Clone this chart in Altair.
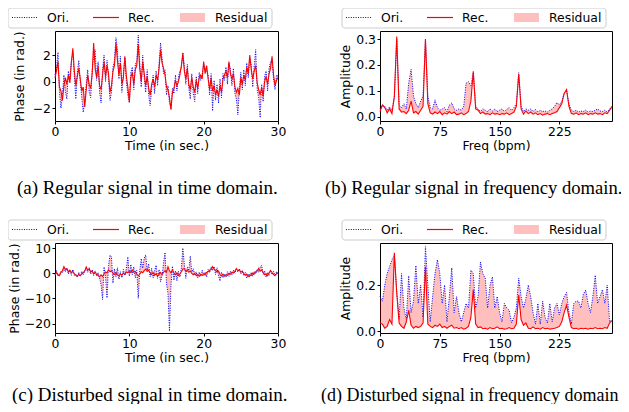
import altair as alt
import pandas as pd

# ---------------- data ----------------
time_sec = [round(0.2 * i, 1) for i in range(151)]
freq_bpm = list(range(0, 292, 3))

ori_a = [0.5, 1.0, 2.2, -0.8, -2.0, -1.0, 0.5, -0.8, -1.3, 0.8,
         0.2, 1.6, 2.2, 0.4, -1.3, 0.7, 1.6, 0.0, -1.2, -2.3,
         -1.5, -0.2, 0.9, -0.8, -1.2, 0.8, 2.0, 2.4, 0.1, 1.5,
         -0.8, -1.6, 0.9, 2.0, 0.0, 1.6, 0.3, -1.4, -0.8, 1.1,
         1.6, 3.3, 2.4, 0.2, 1.9, -0.8, 0.6, 1.8, 0.0, -1.0,
         -1.6, 0.7, 1.1, -0.6, 1.3, 1.5, 3.5, 1.4, -0.4, 2.0,
         0.3, -0.8, 0.9, -1.0, -1.8, -0.6, 0.5, -0.9, 0.8, -0.3,
         1.3, 2.9, 1.8, 0.6, 0.9, -1.0, -0.3, -1.6, -2.0, -0.5,
         -0.9, 0.5, -0.7, 0.3, 0.8, 1.0, 2.2, 1.2, -0.2, 1.3,
         -0.5, -1.3, 0.6, -0.9, -1.5, 0.4, -0.9, 0.7, 0.1, 0.6,
         1.3, 1.0, 0.8, 0.5, -1.0, 0.6, -2.2, 0.1, -1.4, -0.2,
         -1.6, 0.2, -1.2, 0.6, 0.1, 1.1, -0.2, 1.4, 0.9, -0.3,
         1.0, -0.9, -1.3, -2.5, -0.6, 0.7, -0.6, 0.9, -0.3, 1.4,
         0.3, 1.8, 1.2, -0.4, 1.2, 2.4, -0.6, -1.2, -2.7, -0.2,
         -1.5, 0.4, 0.8, -0.7, 1.0, 1.5, 1.6, 0.2, -0.6, 0.5,
         0.4]
rec_a = [0.3, 0.8, 1.5, -0.4, -0.7, -1.4, -0.3, 0.3, -0.2, 0.5,
         -0.1, 1.4, 2.5, 0.8, -0.3, 0.4, 1.0, 0.2, -0.7, -0.4,
         -1.9, -0.6, 0.5, -0.2, -0.5, 0.6, 2.9, 1.0, 0.3, 1.2,
         -0.3, -0.6, 0.5, 1.5, 0.4, 1.2, 0.6, -0.8, -0.3, 0.8,
         1.2, 2.9, 1.6, 0.5, 1.4, -0.2, 0.3, 1.9, 0.4, -0.4,
         -1.5, 0.3, 0.7, -0.2, 0.9, 1.2, 2.8, 1.0, 0.0, 1.5,
         0.6, -0.3, 0.4, -0.5, -1.0, -0.2, 0.2, -0.4, 0.5, 0.1,
         1.0, 2.4, 1.4, 1.0, 0.5, -0.4, -0.6, -1.2, -2.1, -0.8,
         -0.5, 0.1, -0.3, 0.0, 0.5, 1.2, 2.1, 0.8, 0.2, 1.0,
         -0.2, -0.6, 0.3, -0.4, -0.8, 0.1, -0.5, 0.3, 0.5, 0.2,
         1.5, 0.6, 1.2, 0.2, -0.6, 0.3, -0.7, -0.3, -1.0, -0.6,
         -1.1, -0.3, -0.8, 0.2, 0.5, 0.8, 0.3, 1.5, 0.6, 0.2,
         0.6, -0.4, -0.8, -0.5, -1.0, 0.3, -0.2, 0.5, 0.1, 1.1,
         0.6, 2.0, 0.9, 0.2, 0.8, 1.2, -0.1, -0.6, -1.0, -0.4,
         -1.1, 0.0, 0.4, -0.2, 0.6, 1.0, 1.9, 0.5, -0.3, 0.1,
         0.3]

ori_c = [-0.5, 1.2, -1.0, -0.3, 0.8, 0.2, 1.8, 0.5, 2.0, -0.3,
         0.9, -0.8, 1.5, -0.9, -0.3, -1.6, 0.4, -1.2, 0.8, -0.5,
         1.2, 2.0, 0.4, 2.2, -0.4, 1.4, -0.9, 1.0, -1.2, 0.3,
         -2.0, -4.5, -10.5, 2.5, -1.5, -9.8, 3.0, 7.2, 6.5, -3.9,
         1.8, -1.5, 2.2, -2.4, 0.6, -1.8, 1.5, -0.9, 2.0, 6.5,
         -1.2, 3.5, -0.6, 2.5, -1.8, 1.2, -10.0, 1.0, 5.8, 2.0,
         6.0, 7.3, 1.2, 3.8, -1.5, 2.0, -1.9, 1.0, 3.2, -2.0,
         1.5, -3.5, -1.0, 4.0, 8.3, -4.2, -8.0, -23.0, -5.0, 2.8,
         -2.8, 1.0, -3.0, 0.8, -1.5, 2.0, 10.0, 3.5, -2.0, 2.5,
         1.0, 6.8, 0.5, 1.8, -0.8, 0.6, -1.8, 0.5, -1.2, 1.2,
         -0.8, 0.5, -1.5, 1.5, 0.2, 2.5, 1.0, 2.7, -0.5, 2.2,
         -1.0, -3.1, 0.4, -1.8, -0.3, -1.5, 0.6, -1.2, 0.8, -0.6,
         1.2, 0.0, 1.6, 0.6, 1.8, -0.2, 1.0, -1.0, 0.3, -2.0,
         -0.5, -1.5, 0.4, -1.2, 0.7, -0.2, 1.6, 0.4, 2.5, 3.2,
         -0.4, 1.0, -1.6, 0.4, -0.8, 1.4, -0.6, 0.8, -1.2, 0.6,
         0.0]
rec_c = [-0.8, 0.2, -0.6, -1.0, 0.3, 1.0, 2.6, 1.5, 1.8, 0.6,
         1.2, 0.3, 0.8, -0.2, -0.8, -1.2, -0.5, -1.0, -0.3, 0.2,
         0.8, 2.5, 1.2, 1.8, 0.5, 0.9, -0.2, 0.4, -0.4, -0.8,
         -1.4, -0.6, -1.2, -0.3, 0.5, 0.2, 1.4, 0.6, 1.0, 0.0,
         -0.5, 0.3, -0.7, -1.0, -0.3, -0.8, 0.1, -0.4, 0.5, 0.2,
         0.9, 0.3, 1.3, 0.4, 0.7, -0.3, -1.0, -0.4, 0.6, 0.2,
         1.0, 1.6, 0.7, 1.2, 0.1, -0.5, 0.4, -0.8, -0.2, -1.2,
         -0.4, 0.3, -0.6, 0.4, 1.0, 0.5, 2.6, 1.0, 0.2, 1.3,
         0.1, -0.6, 0.2, -0.9, -0.2, 0.6, 1.6, 1.9, 0.8, 1.2,
         0.4, 0.9, -0.1, -0.6, 0.0, -1.0, -0.5, -1.2, -0.4, -0.9,
         -0.2, -0.6, 0.3, 0.6, 1.2, 1.5, 2.6, 1.7, 1.1, 0.5,
         0.9, -0.5, -1.1, -0.4, -1.2, -0.6, -0.9, 0.0, -0.4, 0.4,
         0.1, 0.8, 1.9, 1.0, 1.4, 0.5, 0.8, -0.2, -0.8, -0.3,
         -1.2, -0.6, -0.9, 0.1, -0.3, 0.6, 0.9, 1.9, 0.8, 1.3,
         0.3, -0.6, -0.2, -1.0, 0.2, 1.0, 0.3, -0.5, -0.9, -0.2,
         0.2]

ori_b = [0.030, 0.045, 0.040, 0.025, 0.038, 0.025, 0.070, 0.300, 0.045, 0.035,
         0.050, 0.030, 0.130, 0.183, 0.080, 0.050, 0.035, 0.060, 0.080, 0.295,
         0.080, 0.035, 0.030, 0.065, 0.035, 0.025, 0.030, 0.035, 0.020, 0.045,
         0.053, 0.030, 0.025, 0.030, 0.025, 0.040, 0.130, 0.135, 0.120, 0.170,
         0.040, 0.030, 0.020, 0.030, 0.025, 0.020, 0.030, 0.022, 0.030, 0.020,
         0.025, 0.030, 0.020, 0.028, 0.035, 0.025, 0.035, 0.050, 0.170, 0.040,
         0.020, 0.030, 0.025, 0.030, 0.020, 0.028, 0.018, 0.025, 0.020, 0.022,
         0.018, 0.025, 0.030, 0.040, 0.055, 0.045, 0.060, 0.090, 0.100, 0.050,
         0.025, 0.020, 0.025, 0.018, 0.022, 0.020, 0.025, 0.018, 0.022, 0.020,
         0.025, 0.030, 0.022, 0.020, 0.025, 0.018, 0.030, 0.035]
rec_b = [0.020, 0.045, 0.035, 0.015, 0.030, 0.012, 0.080, 0.310, 0.030, 0.018,
         0.020, 0.012, 0.025, 0.060, 0.015, 0.020, 0.010, 0.025, 0.040, 0.300,
         0.050, 0.015, 0.010, 0.018, 0.012, 0.020, 0.008, 0.015, 0.010, 0.020,
         0.012, 0.018, 0.008, 0.010, 0.015, 0.008, 0.012, 0.020, 0.060, 0.175,
         0.030, 0.025, 0.012, 0.018, 0.010, 0.012, 0.008, 0.015, 0.010, 0.012,
         0.008, 0.012, 0.010, 0.015, 0.008, 0.012, 0.018, 0.040, 0.165, 0.030,
         0.010, 0.022, 0.012, 0.018, 0.010, 0.015, 0.008, 0.012, 0.006, 0.010,
         0.012, 0.008, 0.012, 0.015, 0.020, 0.035, 0.050, 0.090, 0.105, 0.040,
         0.012, 0.010, 0.015, 0.008, 0.012, 0.010, 0.015, 0.008, 0.012, 0.010,
         0.015, 0.010, 0.012, 0.008, 0.015, 0.012, 0.025, 0.040]

ori_d = [0.150, 0.130, 0.200, 0.250, 0.280, 0.310, 0.330, 0.170, 0.050, 0.250,
         0.100, 0.050, 0.240, 0.080, 0.130, 0.285, 0.120, 0.200, 0.060, 0.367,
         0.200, 0.040, 0.150, 0.250, 0.310, 0.250, 0.120, 0.200, 0.040, 0.150,
         0.275, 0.080, 0.150, 0.080, 0.040, 0.080, 0.120, 0.100, 0.265, 0.250,
         0.100, 0.150, 0.300, 0.250, 0.230, 0.100, 0.200, 0.236, 0.100, 0.150,
         0.080, 0.040, 0.120, 0.100, 0.090, 0.035, 0.060, 0.100, 0.230, 0.150,
         0.100, 0.140, 0.200, 0.150, 0.080, 0.030, 0.120, 0.030, 0.130, 0.060,
         0.035, 0.120, 0.040, 0.100, 0.120, 0.070, 0.120, 0.150, 0.168, 0.080,
         0.030, 0.120, 0.130, 0.130, 0.100, 0.160, 0.178, 0.120, 0.080, 0.150,
         0.243, 0.120, 0.150, 0.180, 0.120, 0.200, 0.040, 0.050]
rec_d = [0.035, 0.030, 0.012, 0.020, 0.050, 0.030, 0.340, 0.165, 0.035, 0.020,
         0.012, 0.040, 0.090, 0.025, 0.012, 0.020, 0.015, 0.020, 0.035, 0.280,
         0.030, 0.020, 0.015, 0.025, 0.020, 0.030, 0.015, 0.020, 0.012, 0.020,
         0.025, 0.012, 0.015, 0.010, 0.015, 0.008, 0.012, 0.020, 0.060, 0.180,
         0.030, 0.015, 0.018, 0.010, 0.012, 0.008, 0.015, 0.010, 0.012, 0.018,
         0.010, 0.012, 0.008, 0.010, 0.015, 0.010, 0.012, 0.030, 0.157, 0.050,
         0.025, 0.035, 0.012, 0.010, 0.018, 0.010, 0.012, 0.008, 0.015, 0.010,
         0.012, 0.008, 0.010, 0.012, 0.015, 0.020, 0.040, 0.080, 0.112, 0.060,
         0.015, 0.010, 0.012, 0.008, 0.012, 0.010, 0.012, 0.008, 0.012, 0.010,
         0.015, 0.010, 0.012, 0.010, 0.015, 0.012, 0.035, 0.045]

legend_labels = ["Ori.", "Rec.", "Residual"]
time_ticks = [0, 10, 20, 30]
freq_ticks = [0, 75, 150, 225]
captions = ["(a)  Regular signal in time domain.",
            "(b)  Regular signal in frequency domain.",
            "(c)  Disturbed signal in time domain.",
            "(d)  Disturbed signal in frequency domain"]

# ---------------- style ----------------
FONT = "DejaVu Sans"
FS = 12.4
SERIF = "Liberation Serif"
BLUE = "#0000ff"
RED = "#ff0000"
DOT = [1, 1.4]
LY = -13.5  # legend row centre (relative to plot top)
ORIGIN_X, ORIGIN_Y = 47, 23     # top-left plot origin inside the svg
SVG_W, SVG_H = 613, 396         # whole drawing fits the page exactly


def legend_layers(dx):
    def one(lab):
        return alt.Chart(pd.DataFrame({"label": [lab]}))
    box = one("legend").mark_rect(fill="white", stroke="#cccccc", strokeWidth=1,
                                  cornerRadius=3).encode(
        x=alt.value(-47 + dx), x2=alt.value(217 + dx),
        y=alt.value(-23), y2=alt.value(-3))
    s1 = one(legend_labels[0]).mark_rule(color=BLUE, strokeWidth=1, strokeDash=DOT).encode(
        x=alt.value(-43 + dx), x2=alt.value(-18 + dx), y=alt.value(LY))
    s2 = one(legend_labels[1]).mark_rule(color=RED, strokeWidth=1.2).encode(
        x=alt.value(38 + dx), x2=alt.value(64 + dx), y=alt.value(LY))
    s3 = one(legend_labels[2]).mark_rect(color=RED, opacity=0.25).encode(
        x=alt.value(125 + dx), x2=alt.value(150 + dx),
        y=alt.value(LY - 4.5), y2=alt.value(LY + 4.5))
    texts = []
    for lab, px in zip(legend_labels, [-8, 73, 160]):
        texts.append(one(lab).mark_text(align="left", baseline="middle", font=FONT,
                                        fontSize=FS, color="black").encode(
            text="label:N", x=alt.value(px + dx), y=alt.value(LY)))
    return [box, s1, s2, s3] + texts


def make_panel(xs, ori, rec, xdom, ydom, xticks, yticks, xtitle, ytitle, xfmt, yfmt,
               w, caption, cap_dx, cap_off, cap_fs, ytp, lg_dx):
    df = pd.DataFrame({"x": xs, "ori": ori, "rec": rec})
    xsc = alt.Scale(domain=xdom, nice=False, zero=False)
    ysc = alt.Scale(domain=ydom, nice=False, zero=False)
    xax = alt.Axis(values=xticks, format=xfmt, title=xtitle, titleFontWeight="normal",
                   titlePadding=2)
    yax = alt.Axis(values=yticks, format=yfmt, title=ytitle, titlePadding=ytp,
                   titleFontWeight="normal")
    X = alt.X("x:Q", scale=xsc, axis=xax)
    base = alt.Chart(df)
    area = base.mark_area(color=RED, opacity=0.25).encode(
        x=X, y=alt.Y("ori:Q", scale=ysc, axis=yax), y2="rec:Q")
    ori_l = base.mark_line(color=BLUE, strokeWidth=1, strokeDash=DOT).encode(
        x=X, y=alt.Y("ori:Q", scale=ysc, axis=yax))
    rec_l = base.mark_line(color=RED, strokeWidth=1.1).encode(
        x=X, y=alt.Y("rec:Q", scale=ysc, axis=yax))
    layers = [area, ori_l, rec_l] + legend_layers(lg_dx)
    return alt.layer(*layers).properties(
        width=w, height=90,
        title=alt.TitleParams(text=caption, orient="bottom", anchor="start", frame="group",
                              dx=cap_dx, offset=cap_off, baseline="alphabetic", font=SERIF,
                              fontSize=cap_fs, fontWeight="normal", color="black"))


pa = make_panel(time_sec, ori_a, rec_a, [0, 30], [-2.95, 3.8], time_ticks, [-2, 0, 2],
                "Time (in sec.)", "Phase (in rad.)", "d", "d", 223, captions[0],
                -38, 41.5, 19, 6, 0)
pb = make_panel(freq_bpm, ori_b, rec_b, [0, 291], [-0.0166, 0.331], freq_ticks,
                [0.0, 0.1, 0.2, 0.3], "Freq (bpm)", "Amplitude", "d", ".1f", 232,
                captions[1], -55, 41.5, 18.6, 3, 9)
pc = make_panel(time_sec, ori_c, rec_c, [0, 30], [-23.7, 12.0], time_ticks, [-20, -10, 0, 10],
                "Time (in sec.)", "Phase (in rad.)", "d", "d", 223, captions[2],
                -43, 36.5, 19, 3, 0)
pd_ = make_panel(freq_bpm, ori_d, rec_d, [0, 291], [-0.0087, 0.383], freq_ticks, [0.0, 0.2],
                 "Freq (bpm)", "Amplitude", "d", ".1f", 232, captions[3],
                 -59, 36.5, 18, 3, 9)

chart = alt.concat(pa, pb, pc, pd_, columns=2,
                   spacing={"row": 122, "column": 102},
                   bounds="flush", align="each").properties(
    autosize=alt.AutoSizeParams(type="none"),
    padding={"left": ORIGIN_X, "top": ORIGIN_Y,
             "right": SVG_W - ORIGIN_X, "bottom": SVG_H - ORIGIN_Y}
).configure_view(
    stroke="black", strokeWidth=1
).configure_axis(
    domain=False, grid=False, tickColor="black", tickSize=3, tickWidth=1,
    labelFont=FONT, labelFontSize=FS, labelColor="black", labelPadding=1.5,
    labelFlush=False, labelOverlap=False,
    titleFont=FONT, titleFontSize=FS, titleFontWeight="normal", titleColor="black"
)

chart.save("out.html", embed_options={"renderer": "svg", "actions": False})
